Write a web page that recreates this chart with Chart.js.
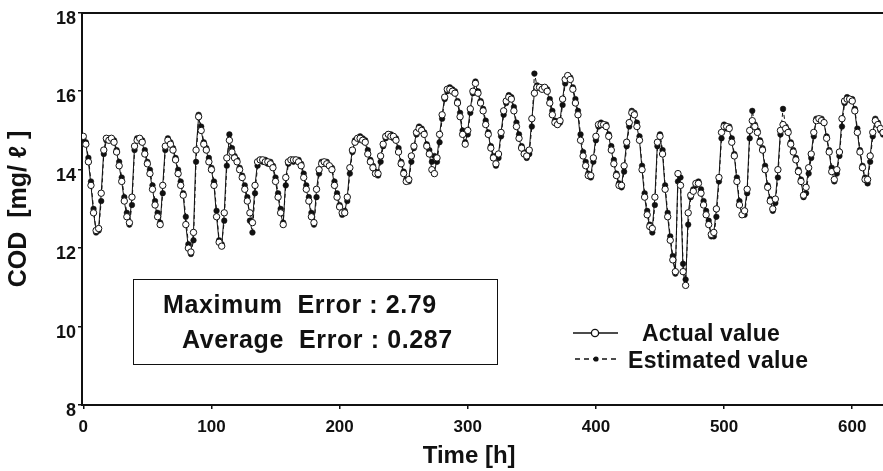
<!DOCTYPE html>
<html><head><meta charset="utf-8">
<script src="https://cdn.jsdelivr.net/npm/chart.js@4.4.1/dist/chart.umd.min.js"></script>
<style>
html,body{margin:0;padding:0;background:#fff;}
#wrap{position:relative;width:883px;height:471px;overflow:hidden;}
canvas{position:absolute;left:0;top:0;}
.t{position:absolute;font-family:"Liberation Sans",Arial,Helvetica,sans-serif;font-weight:bold;color:#111;white-space:pre;line-height:1;}
#box{position:absolute;left:133px;top:279px;width:365px;height:86px;border:1.5px solid #111;box-sizing:border-box;}
#leg{position:absolute;left:0;top:0;}
</style></head><body>
<div id="wrap">
<canvas id="c" width="883" height="471"></canvas>
<div id="box"></div>
<div class="t" style="left:163px;top:292px;font-size:25px;letter-spacing:0.6px">Maximum  Error : 2.79</div>
<div class="t" style="left:182px;top:327px;font-size:25px;letter-spacing:0.6px">Average  Error : 0.287</div>
<svg id="leg" width="883" height="471">
  <line x1="573" y1="333" x2="618" y2="333" stroke="#111" stroke-width="1.3"/>
  <circle cx="595" cy="333" r="3.6" fill="#fff" stroke="#111" stroke-width="1.3"/>
  <line x1="575" y1="359" x2="617" y2="359" stroke="#111" stroke-width="1.3" stroke-dasharray="5,4"/>
  <circle cx="596" cy="359" r="2.6" fill="#111"/>
</svg>
<div class="t" style="left:642px;top:322px;font-size:23px;letter-spacing:0.2px">Actual value</div>
<div class="t" style="left:628px;top:349px;font-size:23px;letter-spacing:0.35px">Estimated value</div>
</div>
<script>
const STEP_H = 2;
const ACTUAL = [
14.85,14.65,14.2,13.6,12.9,12.45,12.5,13.4,14.5,14.8,14.75,14.8,
14.7,14.45,14.1,13.7,13.2,12.8,12.65,13.3,14.6,14.75,14.8,14.7,
14.4,14.15,13.9,13.5,13.1,12.8,12.6,13.6,14.6,14.75,14.65,14.5,
14.25,13.9,13.6,13.35,12.6,12.0,11.9,12.4,14.5,15.35,15.0,14.65,
14.5,14.2,14.0,13.6,12.8,12.15,12.05,12.9,14.3,14.75,14.45,14.3,
14.2,14.0,13.8,13.5,13.2,12.9,12.65,13.6,14.2,14.25,14.25,14.2,
14.2,14.15,14.05,13.7,13.3,12.9,12.6,13.8,14.2,14.25,14.25,14.25,
14.2,14.1,13.8,13.5,13.2,12.8,12.65,13.5,14.0,14.15,14.2,14.15,
14.1,14.0,13.6,13.3,13.05,12.9,12.9,13.3,14.05,14.5,14.7,14.8,
14.8,14.75,14.7,14.4,14.2,14.05,13.9,13.9,14.35,14.65,14.85,14.9,
14.85,14.85,14.75,14.45,14.15,13.9,13.7,13.75,14.35,14.6,14.95,15.05,
15.0,14.9,14.6,14.4,14.0,13.9,14.3,14.9,15.4,15.85,16.05,16.05,
16.0,15.95,15.7,15.35,14.9,14.65,15.0,15.55,16.0,16.2,15.95,15.7,
15.5,15.15,14.9,14.55,14.3,14.15,14.4,14.95,15.5,15.75,15.85,15.8,
15.5,15.1,14.8,14.55,14.4,14.35,14.5,15.3,15.95,16.1,16.1,16.05,
16.1,16.0,15.7,15.4,15.2,15.15,15.25,15.8,16.3,16.4,16.3,16.05,
15.7,15.4,14.75,14.35,14.1,13.85,13.85,14.3,14.85,15.15,15.15,15.15,
15.1,14.85,14.5,14.15,13.85,13.6,13.6,14.1,14.7,15.2,15.45,15.4,
15.1,14.75,14.0,13.3,12.85,12.55,12.5,13.3,14.7,14.85,14.4,13.5,
12.8,12.2,11.7,11.4,13.9,13.6,11.4,11.05,12.9,13.35,13.45,13.65,
13.65,13.4,13.1,12.85,12.6,12.35,12.4,13.0,13.8,14.95,15.1,15.1,
15.05,14.7,14.35,13.7,13.1,12.85,12.95,13.5,15.0,15.25,15.1,14.95,
14.7,14.5,14.0,13.55,13.2,13.0,13.25,14.0,15.0,15.15,15.05,14.95,
14.65,14.45,14.25,13.95,13.7,13.35,13.55,14.05,14.4,14.95,15.25,15.3,
15.25,15.2,14.8,14.45,13.95,13.75,14.0,14.45,15.3,15.75,15.8,15.8,
15.75,15.5,14.95,14.45,14.05,13.75,13.75,14.35,14.95,15.25,15.15,15.05,
14.95
];
const ESTIMATED = [
14.8,14.7,14.3,13.7,13.0,12.4,12.45,13.2,14.4,14.75,14.8,14.75,
14.75,14.5,14.2,13.8,13.3,12.9,12.6,13.1,14.5,14.8,14.75,14.75,
14.5,14.2,14.0,13.6,13.2,12.9,12.65,13.4,14.5,14.8,14.7,14.55,
14.3,14.0,13.7,13.4,12.8,12.1,11.85,12.2,14.2,15.4,15.1,14.7,
14.55,14.3,14.05,13.7,12.95,12.2,12.1,12.7,14.1,14.9,14.55,14.35,
14.25,14.05,13.85,13.6,13.3,12.7,12.4,13.4,14.1,14.25,14.2,14.25,
14.15,14.2,14.1,13.8,13.4,13.0,12.65,13.6,14.15,14.25,14.2,14.25,
14.25,14.15,13.9,13.6,13.3,12.9,12.6,13.3,13.9,14.2,14.15,14.2,
14.1,14.05,13.7,13.4,13.1,12.85,12.95,13.2,13.9,14.45,14.75,14.75,
14.85,14.8,14.75,14.5,14.25,14.1,13.95,13.85,14.2,14.6,14.8,14.9,
14.9,14.8,14.8,14.55,14.2,13.95,13.75,13.7,14.2,14.55,14.9,15.1,
15.05,14.95,14.65,14.5,14.2,14.35,14.2,14.7,15.3,15.8,16.0,16.1,
16.05,16.0,15.75,15.45,15.0,14.7,14.9,15.45,15.95,16.25,16.0,15.75,
15.55,15.25,14.95,14.6,14.35,14.1,14.3,14.85,15.4,15.7,15.9,15.85,
15.6,15.2,14.9,14.6,14.45,14.3,14.4,15.1,16.45,16.15,16.1,16.1,
16.05,16.05,15.8,15.5,15.25,15.15,15.2,15.65,16.2,16.4,16.35,16.1,
15.8,15.5,14.9,14.45,14.2,13.9,13.8,14.2,14.75,15.1,15.2,15.15,
15.15,14.9,14.6,14.25,13.9,13.65,13.55,13.95,14.6,15.1,15.5,15.45,
15.2,14.85,14.1,13.4,12.95,12.6,12.4,13.1,14.6,14.9,14.5,13.6,
12.9,12.3,11.8,11.35,13.7,13.8,11.6,11.2,12.6,13.3,13.5,13.6,
13.7,13.5,13.2,12.95,12.7,12.3,12.3,12.8,13.7,14.8,15.15,15.05,
15.1,14.8,14.4,13.8,13.2,12.85,12.85,13.4,14.8,15.5,15.15,15.0,
14.75,14.55,14.1,13.6,13.25,12.95,13.15,13.8,14.9,15.55,15.1,15.0,
14.7,14.5,14.3,14.0,13.75,13.3,13.4,13.9,14.3,14.85,15.3,15.25,
15.3,15.2,14.85,14.5,14.05,13.7,13.9,14.35,15.1,15.7,15.85,15.8,
15.8,15.55,15.05,14.5,14.1,13.8,13.65,14.2,14.85,15.3,15.2,15.0,
14.9
];
const HOURS = ACTUAL.map((_, i) => i * STEP_H);
const X_TICKS = [0, 100, 200, 300, 400, 500, 600];
const Y_TICKS = [8, 10, 12, 14, 16, 18];

const FAMILY = '"Liberation Sans", Arial, Helvetica, sans-serif';
const INK = '#111';

new Chart(document.getElementById('c'), {
  type: 'line',
  data: {
    datasets: [
      {
        label: 'Actual value',
        data: HOURS.map((h, i) => ({x: h, y: ACTUAL[i]})),
        borderColor: INK, borderWidth: 1,
        pointStyle: 'circle', pointRadius: 3.2,
        pointBackgroundColor: '#fff', pointBorderColor: INK, pointBorderWidth: 1,
        tension: 0
      },
      {
        label: 'Estimated value',
        data: HOURS.map((h, i) => ({x: h, y: ESTIMATED[i]})),
        borderColor: INK, borderWidth: 1, borderDash: [4, 3],
        pointStyle: 'circle', pointRadius: 2.8,
        pointBackgroundColor: INK, pointBorderColor: INK, pointBorderWidth: 0.5,
        tension: 0
      }
    ]
  },
  options: {
    responsive: false, animation: false, devicePixelRatio: 1,
    layout: {padding: 0, autoPadding: false},
    plugins: {legend: {display: false}, tooltip: {enabled: false}},
    scales: {
      x: {
        type: 'linear', position: 'bottom', min: -1, max: 624,
        afterBuildTicks: s => { s.ticks = X_TICKS.map(v => ({value: v})); },
        afterFit: s => { s.height = 66; },
        ticks: {font: {family: FAMILY, size: 17, weight: 'bold'}, color: INK, padding: 8, maxRotation: 0, autoSkip: false},
        grid: {drawOnChartArea: false, tickLength: 4, color: INK, lineWidth: 1.5},
        border: {color: INK, width: 2},
        title: {display: true, text: 'Time [h]\u00a0\u00a0\u00a0\u00a0', color: INK,
          font: {family: FAMILY, size: 24, weight: 'bold'}, padding: {top: 0, bottom: 0}}
      },
      x2: {
        type: 'linear', position: 'top', min: -1, max: 624,
        afterFit: s => { s.height = 10; },
        ticks: {display: false},
        grid: {drawOnChartArea: false, drawTicks: false},
        border: {display: true, color: INK, width: 2}
      },
      y: {
        type: 'linear', min: 8, max: 18,
        afterBuildTicks: s => { s.ticks = Y_TICKS.map(v => ({value: v})); },
        afterFit: s => { s.width = 82; },
        ticks: {font: {family: FAMILY, size: 18, weight: 'bold'}, color: INK, padding: 2, labelOffset: 6},
        grid: {drawOnChartArea: false, tickLength: 4, color: INK, lineWidth: 1.5},
        border: {color: INK, width: 2},
        title: {display: true, text: 'COD  [mg/ ℓ ]', color: INK,
          font: {family: FAMILY, size: 25, weight: 'bold'}, padding: {top: 4, bottom: 0}}
      }
    }
  }
});
</script>
</body></html>
